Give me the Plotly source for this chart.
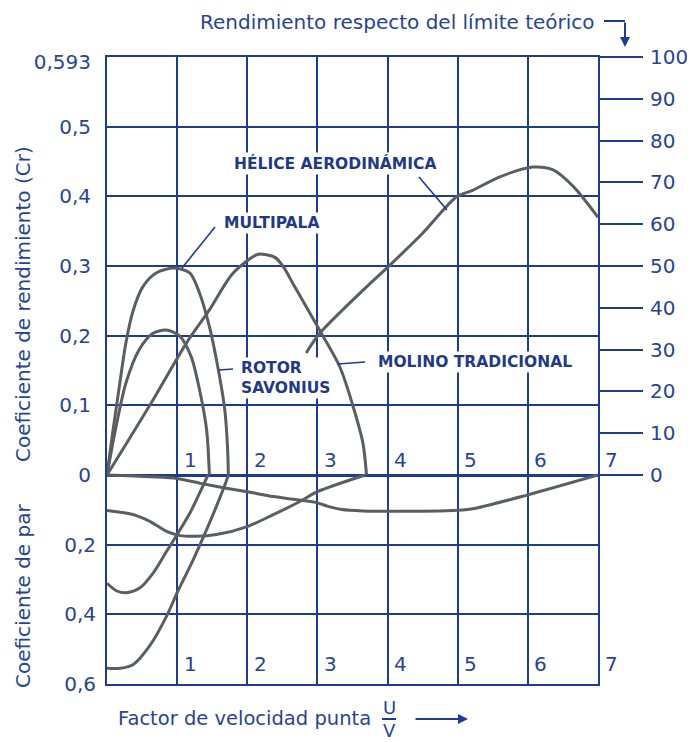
import plotly.graph_objects as go

# ---------------- data ----------------
x_ticks = [1, 2, 3, 4, 5, 6, 7]
x_tick_labels = ["1", "2", "3", "4", "5", "6", "7"]

cr_tick_vals = [0.593, 0.5, 0.4, 0.3, 0.2, 0.1, 0]
cr_tick_text = ["0,593", "0,5", "0,4", "0,3", "0,2", "0,1", "0"]

par_tick_vals = [0.2, 0.4, 0.6]
par_tick_text = ["0,2", "0,4", "0,6"]

pct_tick_vals = [0, 10, 20, 30, 40, 50, 60, 70, 80, 90, 100]
pct_tick_text = ["0", "10", "20", "30", "40", "50", "60", "70", "80", "90", "100"]

# Coeficiente de rendimiento (Cr)
multipala_x = [0, 0.08, 0.18, 0.27, 0.37, 0.51, 0.7, 0.96, 1.18, 1.32, 1.46, 1.58, 1.68, 1.72, 1.73]
multipala_cr = [0, 0.06, 0.13, 0.19, 0.235, 0.27, 0.29, 0.297, 0.29, 0.261, 0.213, 0.155, 0.093, 0.036, 0]

savonius_x = [0, 0.12, 0.27, 0.46, 0.65, 0.84, 1.03, 1.2, 1.32, 1.42, 1.46]
savonius_cr = [0, 0.065, 0.132, 0.18, 0.203, 0.208, 0.2, 0.17, 0.122, 0.065, 0]

molino_x = [0, 0.61, 1.13, 1.46, 1.79, 2.13, 2.22, 2.4, 2.52, 2.65, 3.03, 3.32, 3.51, 3.65, 3.7]
molino_cr = [0, 0.1, 0.189, 0.237, 0.289, 0.316, 0.317, 0.312, 0.298, 0.275, 0.208, 0.155, 0.098, 0.045, 0]

helice_x = [2.84, 3.03, 3.7, 4.03, 4.5, 4.98, 5.22, 5.6, 6.07, 6.36, 6.65, 7.0]
helice_cr = [0.175, 0.203, 0.27, 0.301, 0.347, 0.399, 0.409, 0.428, 0.442, 0.438, 0.414, 0.37]

# Coeficiente de par
multipala_par_x = [0, 0.19, 0.38, 0.61, 0.85, 1, 1.23, 1.42, 1.56, 1.68, 1.73]
multipala_par = [0.555, 0.555, 0.543, 0.49, 0.405, 0.338, 0.243, 0.157, 0.09, 0.029, 0]

savonius_par_x = [0, 0.14, 0.28, 0.47, 0.66, 0.85, 1, 1.18, 1.32, 1.44]
savonius_par = [0.311, 0.333, 0.338, 0.324, 0.281, 0.219, 0.171, 0.11, 0.052, 0]

molino_par_x = [0, 0.38, 0.61, 0.85, 1.04, 1.27, 1.56, 2, 2.37, 2.75, 3, 3.68]
molino_par = [0.102, 0.114, 0.133, 0.162, 0.174, 0.176, 0.171, 0.148, 0.114, 0.076, 0.048, 0]

helice_par_x = [0, 0.61, 1, 1.33, 1.7, 2, 2.37, 2.75, 3, 3.15, 3.35, 3.65, 4, 5, 5.24, 6, 7]
helice_par = [0, 0.005, 0.01, 0.024, 0.038, 0.048, 0.062, 0.072, 0.08, 0.09, 0.099, 0.103, 0.104, 0.101, 0.096, 0.057, 0]

# ---------------- style ----------------
NAVY = "#1d3c8f"
TXT = "#28448f"
LBL = "#1f3a84"
CURVE = "#5b5e61"
FONT = "DejaVu Sans"

# plot area in page pixels; the page body has an 8px default margin
OFF = 8
L, R, T, B = 107, 598, 57, 684
W, H = 695 - OFF, 742 - OFF


def px(X):
    return (X - L) / (R - L)


def py(Y):
    return (B - Y) / (B - T)


fig = go.Figure()

curve_line = dict(color=CURVE, width=3, shape="spline", smoothing=0.8)
for xs, ys in [(multipala_x, multipala_cr), (savonius_x, savonius_cr),
               (molino_x, molino_cr), (helice_x, helice_cr)]:
    fig.add_trace(go.Scatter(x=xs, y=ys, mode="lines", line=curve_line,
                             yaxis="y", hoverinfo="skip", showlegend=False))
for xs, ys in [(multipala_par_x, multipala_par), (savonius_par_x, savonius_par),
               (molino_par_x, molino_par), (helice_par_x, helice_par)]:
    fig.add_trace(go.Scatter(x=xs, y=ys, mode="lines", line=curve_line,
                             yaxis="y2", hoverinfo="skip", showlegend=False))
# invisible anchors so the overlaying axes are drawn
for ax_id in ["y3", "y4"]:
    fig.add_trace(go.Scatter(x=[0], y=[0], mode="markers", marker=dict(opacity=0),
                             yaxis=ax_id, hoverinfo="skip", showlegend=False))

tickfont = dict(family=FONT, size=20, color=TXT)

fig.update_layout(
    width=W, height=H,
    margin=dict(l=L - OFF, r=W - (R - OFF), t=T - OFF, b=H - (B - OFF), pad=0, autoexpand=False),
    paper_bgcolor="white", plot_bgcolor="white",
    showlegend=False, hovermode=False,
    font=dict(family=FONT, color=TXT),
    xaxis=dict(range=[0, 7], tickvals=x_ticks, showticklabels=False, ticks="",
               showgrid=True, gridcolor=NAVY, gridwidth=2, zeroline=False, automargin=False,
               showline=True, mirror=True, linecolor=NAVY, linewidth=2),
    yaxis=dict(range=[-0.3, 0.6], tickvals=cr_tick_vals, ticktext=cr_tick_text,
               ticks="", ticklabelstandoff=10, tickfont=tickfont, automargin=False,
               showgrid=False, zeroline=True, zerolinecolor=NAVY, zerolinewidth=3,
               showline=True, mirror=True, linecolor=NAVY, linewidth=2),
    yaxis2=dict(range=[0.6, -1.2], overlaying="y", side="left", anchor="x",
                tickvals=par_tick_vals, ticktext=par_tick_text, ticks="",
                ticklabelstandoff=10, tickfont=tickfont, automargin=False,
                showgrid=False, zeroline=False, showline=False),
    yaxis3=dict(range=[-50, 100], overlaying="y", side="right", anchor="x",
                tickvals=pct_tick_vals, ticktext=pct_tick_text,
                ticks="outside", ticklen=44, tickwidth=2, tickcolor=NAVY,
                ticklabelstandoff=3, tickfont=tickfont, automargin=False,
                showgrid=False, zeroline=False, showline=False),
    yaxis4=dict(range=[-0.3, 0.6], overlaying="y", side="left", anchor="x",
                tick0=0, dtick=0.1, showticklabels=False, ticks="", automargin=False,
                showgrid=True, gridcolor=NAVY, gridwidth=2,
                zeroline=False, showline=False),
)

ann = []
# x-axis numbers (upper row on the zero line, lower row on the bottom edge)
for v, t in zip(x_ticks, x_tick_labels):
    ann.append(dict(x=v, y=0, xref="x", yref="y", text=t, showarrow=False,
                    xanchor="center", yanchor="middle", xshift=13, yshift=15,
                    font=dict(family=FONT, size=20, color=TXT)))
    ann.append(dict(x=v, y=-0.3, xref="x", yref="y", text=t, showarrow=False,
                    xanchor="center", yanchor="middle", xshift=13, yshift=20,
                    font=dict(family=FONT, size=20, color=TXT)))

txt20 = dict(family=FONT, size=20, color=TXT)
txt18 = dict(family=FONT, size=18, color=TXT)
ann += [
    dict(x=px(597), y=py(22), xref="paper", yref="paper", xanchor="right", yanchor="middle",
         text="Rendimiento respecto del límite teórico", showarrow=False, font=txt20),
    dict(x=px(625), y=py(47), xref="paper", yref="paper", text="", showarrow=True,
         ax=0, ay=-26, arrowhead=2, arrowsize=1, arrowwidth=2, arrowcolor=NAVY),
    dict(x=px(116), y=py(718), xref="paper", yref="paper", xanchor="left", yanchor="middle",
         text="Factor de velocidad punta", showarrow=False,
         font=dict(family=FONT, size=19.5, color=TXT)),
    dict(x=px(389), y=py(707), xref="paper", yref="paper", xanchor="center", yanchor="middle",
         text="U", showarrow=False, font=txt18, borderpad=0),
    dict(x=px(389), y=py(730), xref="paper", yref="paper", xanchor="center", yanchor="middle",
         text="V", showarrow=False, font=txt18, borderpad=0),
    dict(x=px(468), y=py(719), xref="paper", yref="paper", text="", showarrow=True,
         ax=-54, ay=0, arrowhead=2, arrowsize=1, arrowwidth=2, arrowcolor=NAVY),
    dict(x=px(23), y=py(304), xref="paper", yref="paper", xanchor="center", yanchor="middle",
         text="Coeficiente de rendimiento (Cr)", textangle=-90, showarrow=False, font=txt20),
    dict(x=px(23), y=py(596), xref="paper", yref="paper", xanchor="center", yanchor="middle",
         text="Coeficiente de par", textangle=-90, showarrow=False, font=txt20),
]

bold = dict(family=FONT, size=15.5, color=LBL)
ann += [
    dict(x=px(335), y=py(164), xref="paper", yref="paper", xanchor="center", yanchor="middle",
         text="<b>HÉLICE AERODINÁMICA</b>", showarrow=False, font=bold, bgcolor="white"),
    dict(x=px(271), y=py(223), xref="paper", yref="paper", xanchor="center", yanchor="middle",
         text="<b>MULTIPALA</b>", showarrow=False, font=bold, bgcolor="white"),
    dict(x=px(239), y=py(378), xref="paper", yref="paper", xanchor="left", yanchor="middle",
         text="<b>ROTOR<br>SAVONIUS</b>", align="left", showarrow=False, font=bold,
         bgcolor="white"),
    dict(x=px(376), y=py(362), xref="paper", yref="paper", xanchor="left", yanchor="middle",
         text="<b>MOLINO TRADICIONAL</b>", showarrow=False, font=bold, bgcolor="white"),
]
fig.update_layout(annotations=ann)

shapes = []


def seg(x0, y0, x1, y1, w=1.6):
    shapes.append(dict(type="line", xref="paper", yref="paper",
                       x0=px(x0), y0=py(y0), x1=px(x1), y1=py(y1),
                       line=dict(color=NAVY, width=w)))


seg(604, 21, 625, 21, 2)          # top arrow horizontal part
seg(382, 719, 396, 719, 2)        # U/V fraction bar
seg(419, 177, 447, 210)           # HÉLICE leader
seg(215, 227, 182, 268)           # MULTIPALA leader
seg(233, 369, 219, 370)           # ROTOR SAVONIUS leader
seg(365, 362, 338, 364)           # MOLINO leader
fig.update_layout(shapes=shapes)

fig.write_html("out.html")
